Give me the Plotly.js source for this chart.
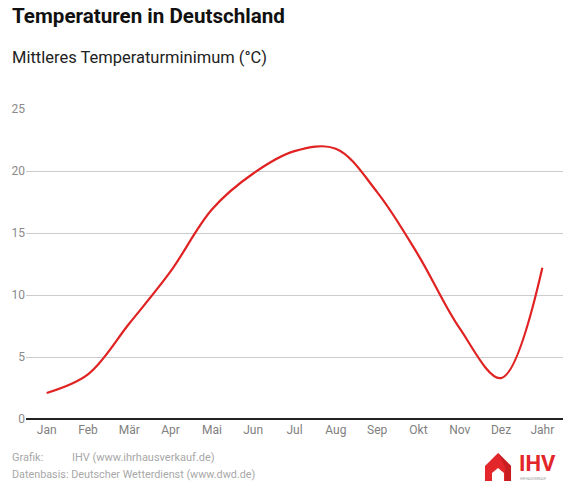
<!DOCTYPE html>
<html><head><meta charset="utf-8">
<script src="https://cdn.plot.ly/plotly-3.0.1.min.js"></script>
<style>html,body{margin:0;padding:0;background:#fff}#c{width:570px;height:490px}</style>
</head><body><div id="c"></div>
<script>
const months = ["Jan","Feb","Mär","Apr","Mai","Jun","Jul","Aug","Sep","Okt","Nov","Dez","Jahr"];
const tempMin = [2.1, 3.6, 7.7, 11.9, 16.9, 19.8, 21.6, 21.8, 18.3, 13.2, 7.3, 3.3, 12.2];
const yTicks = [0, 5, 10, 15, 20, 25];

const W = 570, H = 490, L = 26, R = 7, T = 109, B = 71;
const pw = W - L - R, ph = H - T - B;
const px = x => (x - L) / pw;
const py = y => (H - B - y) / ph;

function pathPx(pts) {
  return pts.map((p, i) => (i ? 'L' : 'M') + px(p[0]).toFixed(4) + ',' + py(p[1]).toFixed(4)).join(' ') + ' Z';
}

const shapes = [
  {type:'path', xref:'paper', yref:'paper', path: pathPx([[485,466],[498,453],[511,466],[511,481],[485,481]]), fillcolor:'#e3262a', line:{width:0}},
  {type:'path', xref:'paper', yref:'paper', path: pathPx([[498,453],[511,466],[511,481],[505,481],[505,467]]), fillcolor:'#c81e22', line:{width:0}},
  {type:'path', xref:'paper', yref:'paper', path: pathPx([[492,473],[498,468],[504,473],[504,481],[492,481]]), fillcolor:'#ffffff', line:{width:0}}
];

const annotations = [
  {text:'<b>Temperaturen in Deutschland</b>', xref:'paper', yref:'paper', x:px(10), y:py(16), xanchor:'left', yanchor:'middle', showarrow:false, font:{family:'Roboto', size:20.6, color:'#111'}},
  {text:'Mittleres Temperaturminimum (°C)', xref:'paper', yref:'paper', x:px(10), y:py(58), xanchor:'left', yanchor:'middle', showarrow:false, font:{family:'Roboto', size:16.5, color:'#222'}},
  {text:'Grafik:', xref:'paper', yref:'paper', x:px(10), y:py(457), xanchor:'left', yanchor:'middle', showarrow:false, font:{family:'Roboto', size:11, color:'#a8a8a8'}},
  {text:'IHV (www.ihrhausverkauf.de)', xref:'paper', yref:'paper', x:px(70), y:py(457), xanchor:'left', yanchor:'middle', showarrow:false, font:{family:'Roboto', size:11, color:'#a8a8a8'}},
  {text:'Datenbasis: Deutscher Wetterdienst (www.dwd.de)', xref:'paper', yref:'paper', x:px(10), y:py(474), xanchor:'left', yanchor:'middle', showarrow:false, font:{family:'Roboto', size:10.8, color:'#a8a8a8'}},
  {text:'<b>IHV</b>', xref:'paper', yref:'paper', x:px(517), y:py(463), xanchor:'left', yanchor:'middle', showarrow:false, font:{family:'Roboto', size:22, color:'#e3262a'}},
  {text:'IHR HAUSVERKAUF', xref:'paper', yref:'paper', x:px(518), y:py(479), xanchor:'left', yanchor:'middle', showarrow:false, font:{family:'Roboto', size:3, color:'#999'}}
];

Plotly.newPlot('c', [{
  x: months, y: tempMin, type:'scatter', mode:'lines',
  line:{color:'#e02222', width:2.2, shape:'spline', smoothing:1},
  hoverinfo:'x+y'
}], {
  width: W, height: H,
  margin:{l:L, r:R, t:T, b:B},
  paper_bgcolor:'#fff', plot_bgcolor:'#fff',
  showlegend:false,
  font:{family:'Roboto', size:12, color:'#777'},
  xaxis:{type:'category', range:[-0.5, 12.5], showgrid:false, zeroline:false, showline:false, ticks:'', ticklabelstandoff:2, tickfont:{size:12, color:'#808080'}, fixedrange:true},
  yaxis:{range:[0, 25], tickvals:yTicks, showgrid:true, gridcolor:'#cccccc', gridwidth:1, zeroline:true, zerolinecolor:'#222', zerolinewidth:1.5, showline:false, ticks:'', ticklen:0, tickfont:{size:12, color:'#8a8a8a'}, fixedrange:true},
  shapes: shapes,
  annotations: annotations
}, {displayModeBar:false, staticPlot:true});
</script></body></html>
